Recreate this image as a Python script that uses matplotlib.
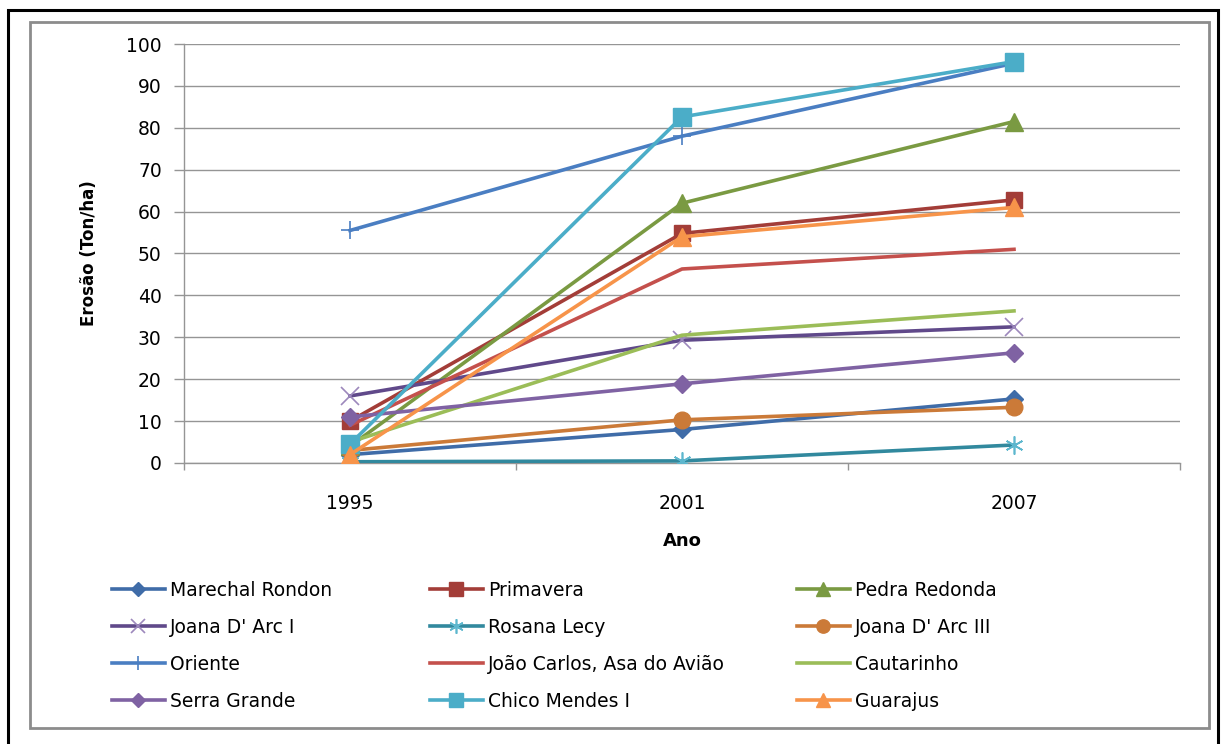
import matplotlib
matplotlib.use("Agg")
import matplotlib.pyplot as plt
from matplotlib.patches import Rectangle
import numpy as np

plt.rcParams['font.family'] = ['DejaVu Sans']

years = ["1995", "2001", "2007"]

marechal_rondon = [2.0, 8.0, 15.3]
primavera = [10.0, 54.8, 62.8]
pedra_redonda = [4.0, 62.0, 81.5]
joana_darc_i = [16.0, 29.3, 32.5]
rosana_lecy = [0.3, 0.5, 4.3]
joana_darc_iii = [3.0, 10.3, 13.3]
oriente = [55.5, 78.0, 95.4]
joao_carlos = [9.0, 46.3, 51.0]
cautarinho = [5.0, 30.5, 36.3]
serra_grande = [11.0, 18.9, 26.3]
chico_mendes = [4.5, 82.6, 95.8]
guarajus = [2.0, 54.0, 61.0]

y_ticks = [0, 10, 20, 30, 40, 50, 60, 70, 80, 90, 100]

# name, values, line colour, marker, marker face, marker edge, marker size
series = [
    ("Marechal Rondon", marechal_rondon, "#3F6CA8", "D", "#3F6CA8", "#3F6CA8", 9),
    ("Primavera", primavera, "#A33D38", "s", "#A33D38", "#A33D38", 12),
    ("Pedra Redonda", pedra_redonda, "#7A9A42", "^", "#7A9A42", "#7A9A42", 13),
    ("Joana D' Arc I", joana_darc_i, "#60498A", "x", "none", "#9C88BC", 13),
    ("Rosana Lecy", rosana_lecy, "#31899E", (6, 2, 0), "none", "#5DB7CE", 13),
    ("Joana D' Arc III", joana_darc_iii, "#CB7A38", "o", "#CB7A38", "#CB7A38", 12),
    ("Oriente", oriente, "#4A7EC2", "+", "none", "#4A7EC2", 13),
    ("João Carlos, Asa do Avião", joao_carlos, "#C4504C", None, None, None, 0),
    ("Cautarinho", cautarinho, "#9BBD58", None, None, None, 0),
    ("Serra Grande", serra_grande, "#7F62A3", "D", "#7F62A3", "#7F62A3", 9),
    ("Chico Mendes I", chico_mendes, "#4BADC8", "s", "#4BADC8", "#4BADC8", 13),
    ("Guarajus", guarajus, "#F7944A", "^", "#F7944A", "#F7944A", 13),
]

W, H = 1221, 744
fig = plt.figure(figsize=(W / 100, H / 100), dpi=100)

# outer black frame and inner grey chart-area frame
fig.patches.append(Rectangle((8 / W, -0.01), (1218 - 8) / W, (H - 10) / H + 0.01,
                             transform=fig.transFigure, fill=False,
                             edgecolor="black", linewidth=2.2))
fig.patches.append(Rectangle((30 / W, 1 - 728 / H), (1209 - 30) / W, (728 - 22) / H,
                             transform=fig.transFigure, fill=False,
                             edgecolor="#8C8C8C", linewidth=2.0))

ax = fig.add_axes([184 / W, 1 - 463 / H, (1180 - 184) / W, (463 - 44) / H])

x = np.arange(len(years))
handles = []
for name, vals, col, mk, mfc, mec, ms in series:
    if mk is None:
        ln, = ax.plot(x, vals, color=col, lw=2.6, label=name, zorder=3)
    else:
        mew = 1.2 if mfc == "none" else 1.0
        ln, = ax.plot(x, vals, color=col, lw=2.6, marker=mk, markersize=ms,
                      markerfacecolor=mfc, markeredgecolor=mec,
                      markeredgewidth=mew, label=name, zorder=3)
    handles.append(ln)

ax.set_xlim(-0.5, len(years) - 0.5)
ax.set_ylim(0, 100)
ax.set_yticks(y_ticks)
ax.set_xticks(np.arange(-0.5, len(years)), minor=False)
ax.set_xticklabels([])
ax.set_xticks(x, minor=True)
ax.set_xticklabels(years, minor=True)

ax.grid(axis="y", color="#959595", linewidth=1.0, zorder=0)
ax.set_axisbelow(True)
for s in ("top", "right"):
    ax.spines[s].set_visible(False)
for s in ("left", "bottom"):
    ax.spines[s].set_color("#959595")
    ax.spines[s].set_linewidth(1.0)

ax.tick_params(axis="y", which="major", direction="out", length=7, width=1.0,
               color="#959595", pad=9, labelsize=13.5)
ax.tick_params(axis="x", which="major", direction="out", length=5, width=1.0,
               color="#959595")
ax.tick_params(axis="x", which="minor", length=0, pad=22, labelsize=13.5)

ax.set_ylabel("Erosão (Ton/ha)", fontsize=12, fontweight="bold", labelpad=20)
ax.set_xlabel("Ano", fontsize=13, fontweight="bold", labelpad=14)

# legend: three columns laid out row by row
col_x = [112 / W, 430 / W, 797 / W]
for c in range(3):
    hs = [handles[r * 3 + c] for r in range(4)]
    fig.legend(hs, [h.get_label() for h in hs], loc="upper left",
               bbox_to_anchor=(col_x[c], 1 - 581 / H), frameon=False,
               fontsize=13.5, handlelength=2.8, handletextpad=0.3,
               labelspacing=0.96, borderpad=0, borderaxespad=0,
               markerscale=0.8)

fig.savefig("out.png", dpi=100)
